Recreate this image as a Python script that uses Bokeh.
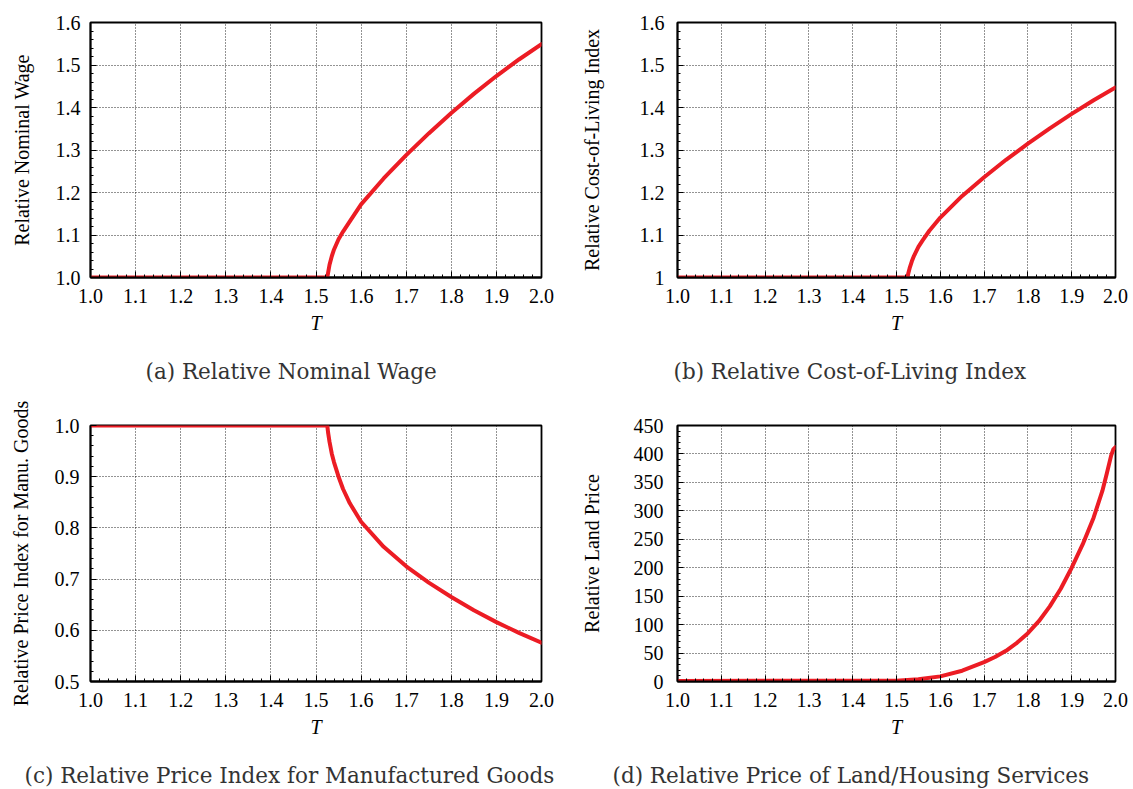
from bokeh.plotting import figure
from bokeh.layouts import column, row
from bokeh.models import Range1d, FixedTicker, Title, NumeralTickFormatter
from bokeh.embed import file_html
from bokeh.resources import INLINE

# ---------------- data ----------------
x_ticks = [1.0, 1.1, 1.2, 1.3, 1.4, 1.5, 1.6, 1.7, 1.8, 1.9, 2.0]

T_abc = [1.0, 1.525, 1.527, 1.53, 1.535, 1.54, 1.55, 1.56, 1.575, 1.6, 1.65,
         1.7, 1.75, 1.8, 1.85, 1.9, 1.95, 2.0]
nominal_wage = [1.0, 1.0, 1.012, 1.03, 1.05, 1.066, 1.09, 1.108, 1.132, 1.172, 1.233,
                1.288, 1.339, 1.387, 1.432, 1.474, 1.513, 1.549]
cost_of_living = [1.0, 1.0, 1.01, 1.022, 1.038, 1.051, 1.072, 1.088, 1.11, 1.141, 1.192,
                  1.236, 1.277, 1.315, 1.351, 1.385, 1.417, 1.447]
price_manu = [1.0, 1.0, 0.985, 0.968, 0.945, 0.928, 0.9, 0.876, 0.848, 0.812, 0.763,
              0.725, 0.693, 0.665, 0.639, 0.616, 0.595, 0.576]

T_d = [1.0, 1.5, 1.55, 1.6, 1.65, 1.7, 1.725, 1.75, 1.775, 1.8, 1.825, 1.85,
       1.875, 1.9, 1.925, 1.95, 1.97, 1.98, 1.99, 1.995, 2.0]
land_price = [1, 1.5, 4, 9, 19, 34, 43, 54, 68, 85, 106, 132,
              163, 200, 241, 288, 335, 365, 397, 408, 412]

yticks_a = [1.0, 1.1, 1.2, 1.3, 1.4, 1.5, 1.6]
yticks_b = [1.0, 1.1, 1.2, 1.3, 1.4, 1.5, 1.6]
yticks_c = [0.5, 0.6, 0.7, 0.8, 0.9, 1.0]
yticks_d = [0, 50, 100, 150, 200, 250, 300, 350, 400, 450]

ylabels = ["Relative Nominal Wage", "Relative Cost-of-Living Index",
           "Relative Price Index for Manu. Goods", "Relative Land Price"]
captions = ["(a)  Relative Nominal Wage", "(b)  Relative Cost-of-Living Index",
            "(c)  Relative Price Index for Manufactured Goods",
            "(d)  Relative Price of Land/Housing Services"]

RED = "#ec1c24"
SERIF = "Liberation Serif"


def minor_of(ticks, n=5):
    out = []
    for a, b in zip(ticks[:-1], ticks[1:]):
        step = (b - a) / n
        out += [a + step * k for k in range(1, n)]
    return out


def make_panel(x, y, yr, yticks, yfmt, ylabel, caption, W, H, mb, ylab_standoff,
               ytick_standoff, cap_offset, spacer, overrides=None):
    p = figure(width=W, height=H, x_range=Range1d(1.0, 2.0), y_range=Range1d(*yr),
               output_backend="svg", toolbar_location=None,
               min_border_left=mb[0], min_border_right=mb[1],
               min_border_top=mb[2], min_border_bottom=mb[3])
    p.background_fill_color = "white"
    p.border_fill_color = "white"
    p.outline_line_color = "black"
    p.outline_line_width = 1.8

    p.xaxis.ticker = FixedTicker(ticks=x_ticks, minor_ticks=minor_of(x_ticks))
    p.yaxis.ticker = FixedTicker(ticks=yticks, minor_ticks=minor_of(yticks))
    p.xaxis.formatter = NumeralTickFormatter(format="0.0")
    p.yaxis.formatter = NumeralTickFormatter(format=yfmt)
    if overrides:
        p.yaxis.major_label_overrides = overrides

    for ax in p.axis:
        ax.axis_line_color = "black"
        ax.axis_line_width = 1.8
        ax.major_tick_in = 6
        ax.major_tick_out = 0
        ax.minor_tick_in = 3
        ax.minor_tick_out = 0
        ax.major_tick_line_color = "black"
        ax.minor_tick_line_color = "black"
        ax.major_label_text_font = SERIF
        ax.major_label_text_font_size = "20px"
        ax.major_label_text_color = "black"
        ax.axis_label_text_font = SERIF
        ax.axis_label_text_color = "black"

    p.xaxis.major_label_standoff = 11
    p.xaxis.axis_label = "T"
    p.xaxis.axis_label_text_font_style = "italic"
    p.xaxis.axis_label_text_font_size = "20px"
    p.xaxis.axis_label_standoff = 6

    p.yaxis.major_label_standoff = ytick_standoff
    p.yaxis.axis_label = ylabel
    p.yaxis.axis_label_text_font_style = "normal"
    p.yaxis.axis_label_text_font_size = "20px"
    p.yaxis.axis_label_standoff = ylab_standoff

    for g in (p.xgrid, p.ygrid):
        g.grid_line_color = "black"
        g.grid_line_alpha = 0.85
        g.grid_line_dash = "1 2"
        g.grid_line_width = 1

    p.line(x, y, line_color=RED, line_width=4, line_cap="round", line_join="round")

    gap = Title(text=" ", align="left", standoff=spacer, text_font_size="2px",
                text_font_style="normal", text_color="white")
    p.add_layout(gap, "below")
    t = Title(text=caption, align="left", offset=cap_offset, standoff=0,
              text_font="DejaVu Serif", text_font_size="21.5px",
              text_font_style="normal", text_color="#333333")
    p.add_layout(t, "below")
    return p


pa = make_panel(T_abc, nominal_wage, (1.0, 1.6), yticks_a, "0.0", ylabels[0], captions[0],
                566, 398, (90, 25, 22, 121), 20, 10, 55, 16)
pb = make_panel(T_abc, cost_of_living, (1.0, 1.6), yticks_b, "0.0", ylabels[1], captions[1],
                567, 398, (111, 18, 22, 121), 34, 13, -4, 16, overrides={1: "1"})
pc = make_panel(T_abc, price_manu, (0.5, 1.0), yticks_c, "0.0", ylabels[2], captions[2],
                566, 391, (90, 25, 27, 108), 20, 11, -66, 16)
pd = make_panel(T_d, land_price, (0, 450), yticks_d, "0", ylabels[3], captions[3],
                567, 391, (111, 18, 27, 108), 28, 14, -65, 16)

layout = column(row(pa, pb), row(pc, pd))
open("out.html", "w").write(file_html(layout, INLINE))
